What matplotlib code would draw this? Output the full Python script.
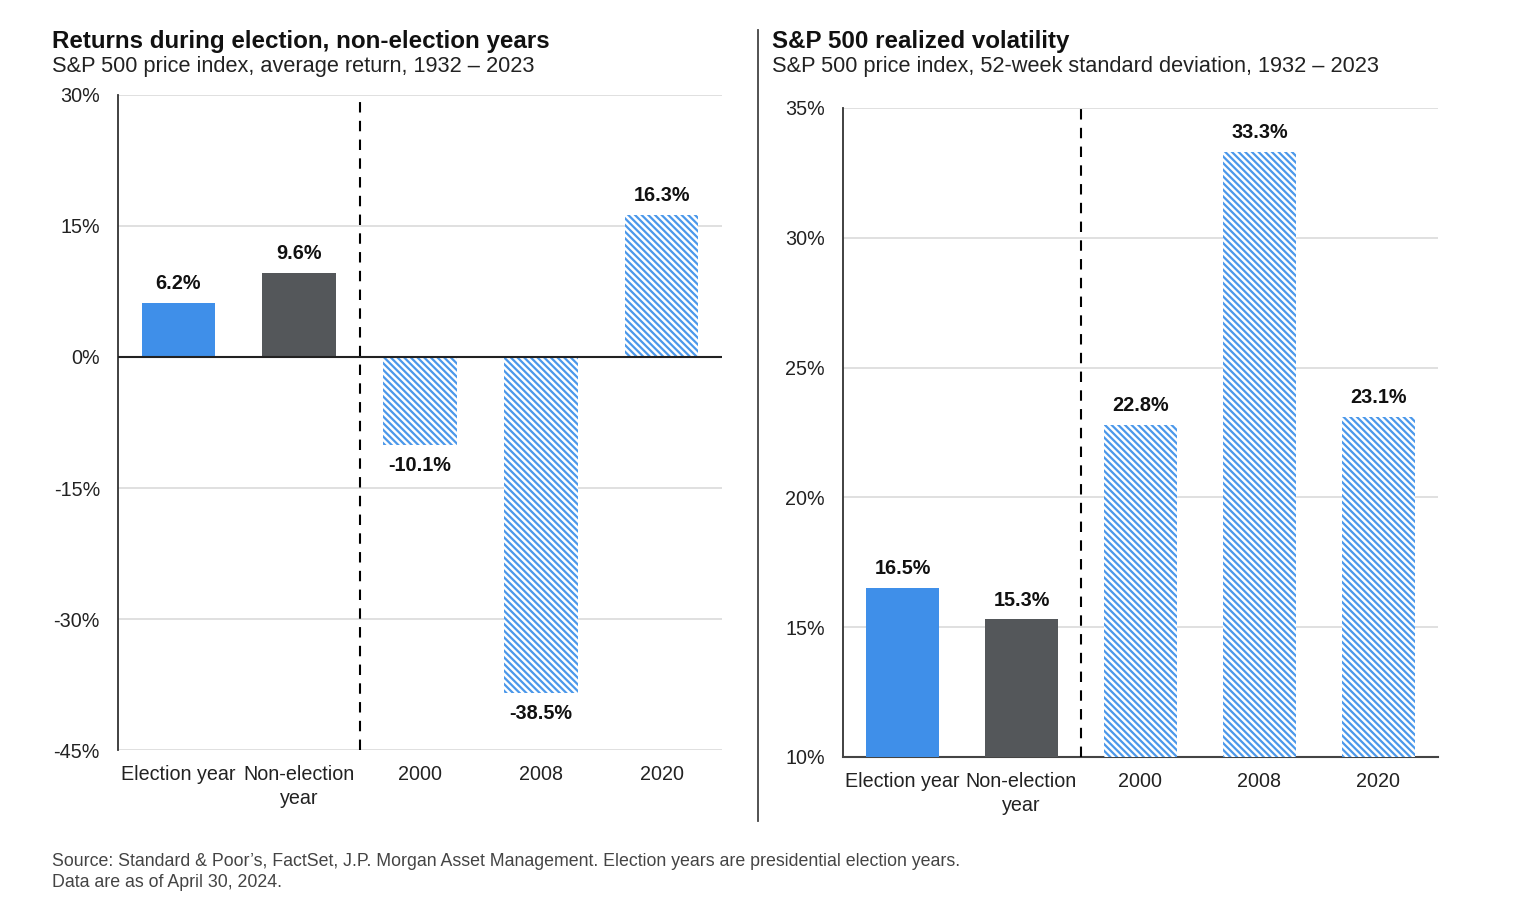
import numpy as np
import matplotlib
matplotlib.use('Agg')
import matplotlib.pyplot as plt

plt.rcParams['font.family'] = ['Liberation Sans', 'DejaVu Sans']
plt.rcParams['hatch.linewidth'] = 1.6

# data
categories = ['Election year', 'Non-election\nyear', '2000', '2008', '2020']
returns = [6.2, 9.6, -10.1, -38.5, 16.3]
volatility = [16.5, 15.3, 22.8, 33.3, 23.1]

ret_ticks = [-45, -30, -15, 0, 15, 30]
vol_ticks = [10, 15, 20, 25, 30, 35]

blue = '#3f8fe9'
gray = '#54575a'
hatch_blue = '#4b98ea'
grid_col = '#dadada'

fig = plt.figure(figsize=(15.2, 9.02), dpi=100)
ax1 = fig.add_axes([0.0776, 0.1685, 0.3974, 0.7262])
ax2 = fig.add_axes([0.5546, 0.1608, 0.3914, 0.7195])


def draw_bars(ax, vals, base):
    x = np.arange(len(vals))
    for i, v in enumerate(vals):
        if i == 0:
            ax.bar(x[i], v - base, bottom=base, width=0.61, color=blue, zorder=3)
        elif i == 1:
            ax.bar(x[i], v - base, bottom=base, width=0.61, color=gray, zorder=3)
        else:
            ax.bar(x[i], v - base, bottom=base, width=0.61, facecolor='white',
                   edgecolor=hatch_blue, hatch='\\' * 5, linewidth=0, zorder=3)
        if v >= 0:
            ax.annotate(f'{v:.1f}%', (x[i], v), xytext=(0, 7), textcoords='offset points',
                        ha='center', va='bottom', fontsize=14.3, fontweight='bold', color='#111111')
        else:
            ax.annotate(f'{v:.1f}%', (x[i], v), xytext=(0, -8), textcoords='offset points',
                        ha='center', va='top', fontsize=14.3, fontweight='bold', color='#111111')
    ax.set_xlim(-0.5, len(vals) - 0.5)
    ax.set_xticks(x)
    ax.set_xticklabels(categories, fontsize=14.2, color='#222222', linespacing=1.3)
    ax.axvline(1.5, color='black', linestyle=(0, (5, 4)), linewidth=1.5, zorder=4)
    ax.yaxis.grid(True, color=grid_col, linewidth=1.2, zorder=0)
    ax.set_axisbelow(True)
    ax.tick_params(axis='both', length=0, labelsize=14.2, labelcolor='#222222')
    ax.tick_params(axis='y', pad=13)
    ax.tick_params(axis='x', pad=11)
    for s in ['top', 'right']:
        ax.spines[s].set_visible(False)
    ax.spines['left'].set_color('#333333')
    ax.spines['left'].set_linewidth(1.3)


# left chart
draw_bars(ax1, returns, 0)
ax1.set_ylim(-45, 30)
ax1.set_yticks(ret_ticks)
ax1.set_yticklabels([f'{t}%' for t in ret_ticks])
ax1.spines['bottom'].set_visible(False)
ax1.axhline(0, color='#222222', linewidth=1.5, zorder=5)

# right chart
draw_bars(ax2, volatility, 0)
ax2.set_ylim(10, 35)
ax2.set_yticks(vol_ticks)
ax2.set_yticklabels([f'{t}%' for t in vol_ticks])
ax2.spines['bottom'].set_color('#444444')
ax2.spines['bottom'].set_linewidth(1.5)

# titles
fig.text(0.034, 0.954, 'Returns during election, non-election years', fontsize=17.4,
         fontweight='bold', ha='left', va='center', color='#111111')
fig.text(0.034, 0.926, 'S&P 500 price index, average return, 1932 \u2013 2023', fontsize=15.7,
         ha='left', va='center', color='#222222')
fig.text(0.508, 0.954, 'S&P 500 realized volatility', fontsize=17.4,
         fontweight='bold', ha='left', va='center', color='#111111')
fig.text(0.508, 0.926, 'S&P 500 price index, 52-week standard deviation, 1932 \u2013 2023', fontsize=15.7,
         ha='left', va='center', color='#222222')

# separator
fig.add_artist(plt.Line2D([0.4987, 0.4987], [0.09, 0.967], color='#444444', linewidth=1.3))

# footnote
fig.text(0.034, 0.033, 'Source: Standard & Poor\u2019s, FactSet, J.P. Morgan Asset Management. '
         'Election years are presidential election years.\nData are as of April 30, 2024.',
         fontsize=12.8, ha='left', va='center', color='#444444', linespacing=1.3)

fig.savefig('out.png', dpi=100)
